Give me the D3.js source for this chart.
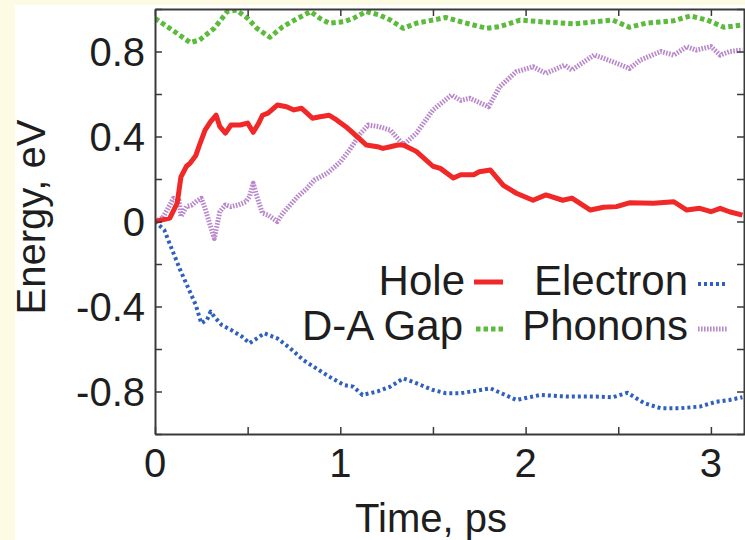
<!DOCTYPE html>
<html>
<head>
<meta charset="utf-8">
<script src="https://cdn.jsdelivr.net/npm/d3@7"></script>
<style>
  html, body { margin: 0; padding: 0; background: #fdfbe4; }
  svg { display: block; }
  text { font-family: "Liberation Sans", Arial, Helvetica, sans-serif; fill: #1e1e1e; }
</style>
</head>
<body>
<svg id="chart" width="745" height="540"></svg>
<script>
// ---- Data (time in ps, energy in eV) ----
const holeT = [0,0.08,0.12,0.14,0.17,0.19,0.22,0.24,0.27,0.30,0.33,0.35,0.38,0.41,0.46,0.50,0.53,0.56,0.58,0.61,0.66,0.71,0.75,0.79,0.82,0.85,0.89,0.94,0.98,1.03,1.09,1.14,1.20,1.23,1.27,1.31,1.34,1.41,1.50,1.54,1.61,1.65,1.72,1.75,1.81,1.88,1.95,2.04,2.11,2.20,2.25,2.35,2.42,2.49,2.56,2.69,2.80,2.87,2.94,3.00,3.05,3.10,3.17];
const holeE = [0,0.016,0.087,0.21,0.26,0.275,0.31,0.36,0.43,0.47,0.50,0.446,0.416,0.454,0.454,0.463,0.42,0.463,0.50,0.51,0.548,0.54,0.525,0.533,0.51,0.486,0.493,0.50,0.478,0.446,0.40,0.36,0.352,0.344,0.352,0.36,0.36,0.33,0.26,0.25,0.205,0.22,0.22,0.234,0.242,0.17,0.133,0.10,0.125,0.10,0.11,0.054,0.067,0.07,0.088,0.086,0.093,0.054,0.062,0.046,0.062,0.046,0.03];

const elecT = [0,0.05,0.10,0.14,0.18,0.22,0.25,0.28,0.30,0.32,0.36,0.41,0.47,0.51,0.55,0.59,0.66,0.73,0.80,0.87,0.94,1.02,1.07,1.12,1.20,1.27,1.34,1.41,1.50,1.57,1.65,1.81,1.95,2.08,2.22,2.38,2.47,2.55,2.64,2.73,2.83,2.94,3.03,3.10,3.17];
const elecE = [0,-0.04,-0.15,-0.236,-0.314,-0.393,-0.479,-0.464,-0.424,-0.448,-0.487,-0.51,-0.542,-0.573,-0.55,-0.526,-0.55,-0.597,-0.652,-0.691,-0.73,-0.77,-0.777,-0.816,-0.80,-0.777,-0.738,-0.761,-0.793,-0.808,-0.808,-0.785,-0.84,-0.816,-0.824,-0.824,-0.827,-0.806,-0.855,-0.879,-0.879,-0.871,-0.848,-0.84,-0.827];

const gapT = [0,0.08,0.19,0.24,0.32,0.39,0.44,0.50,0.55,0.62,0.69,0.77,0.84,0.89,0.94,1.02,1.07,1.14,1.21,1.27,1.34,1.41,1.50,1.57,1.65,1.79,1.86,1.97,2.08,2.26,2.37,2.47,2.56,2.65,2.80,2.89,2.98,3.07,3.17];
const gapE = [0.956,0.909,0.842,0.854,0.909,0.988,0.995,0.956,0.909,0.867,0.917,0.956,0.988,0.956,0.933,0.94,0.956,0.988,0.972,0.948,0.909,0.933,0.948,0.96,0.94,0.909,0.917,0.948,0.94,0.93,0.94,0.948,0.914,0.933,0.945,0.967,0.948,0.914,0.925];

const phonT = [0,0.04,0.10,0.13,0.14,0.17,0.20,0.23,0.25,0.27,0.30,0.32,0.35,0.38,0.41,0.45,0.49,0.51,0.53,0.55,0.58,0.61,0.66,0.69,0.73,0.77,0.82,0.86,0.93,1.00,1.05,1.11,1.15,1.21,1.27,1.34,1.41,1.50,1.60,1.65,1.70,1.80,1.86,1.95,2.04,2.11,2.21,2.25,2.37,2.47,2.56,2.62,2.73,2.80,2.87,2.92,3.00,3.05,3.10,3.17];
const phonE = [0,0.016,0.109,0.10,0.023,0.07,0.078,0.10,0.109,0.062,-0.024,-0.08,0.046,0.078,0.07,0.078,0.093,0.117,0.18,0.117,0.039,0.031,0.0,0.039,0.078,0.117,0.156,0.195,0.227,0.28,0.337,0.415,0.454,0.446,0.43,0.36,0.415,0.525,0.595,0.57,0.58,0.54,0.634,0.705,0.728,0.697,0.736,0.713,0.784,0.752,0.72,0.76,0.80,0.783,0.823,0.807,0.823,0.783,0.80,0.807];

const xTickLabels = [0, 1, 2, 3];
const yTickLabels = [-0.8, -0.4, 0, 0.4, 0.8];

const seriesNames = ["Hole", "Electron", "D-A Gap", "Phonons"];

// ---- Layout ----
const W = 745, H = 540;
const plot = { left: 155, right: 745, top: 9, bottom: 434 };

const svg = d3.select("#chart");

// white panel
svg.append("rect").attr("x", 15).attr("y", 5).attr("width", W - 15).attr("height", H - 5).attr("fill", "#ffffff");

const x = d3.scaleLinear().domain([0, 3.184]).range([plot.left, plot.right]);
const y = d3.scaleLinear().domain([-1, 1]).range([plot.bottom, plot.top]);

const styles = {
  "Hole":     { color: "#f02828", width: 5,   dash: null,      opacity: 1 },
  "Electron": { color: "#2f5fbf", width: 4,   dash: "3,3",     opacity: 1 },
  "D-A Gap":  { color: "#5cbb3c", width: 5,   dash: "4.5,3",   opacity: 1 },
  "Phonons":  { color: "#b07ac6", width: 5,   dash: "1.6,1.4", opacity: 0.9 }
};

const seriesData = {
  "Hole": d3.zip(holeT, holeE),
  "Electron": d3.zip(elecT, elecE),
  "D-A Gap": d3.zip(gapT, gapE),
  "Phonons": d3.zip(phonT, phonE)
};

svg.append("clipPath").attr("id", "clip").append("rect")
  .attr("x", plot.left).attr("y", plot.top)
  .attr("width", plot.right - plot.left).attr("height", plot.bottom - plot.top);

const line = d3.line().x(d => x(d[0])).y(d => y(d[1]));

const g = svg.append("g").attr("clip-path", "url(#clip)");
["Phonons", "D-A Gap", "Electron", "Hole"].forEach(name => {
  const s = styles[name];
  g.append("path")
    .datum(seriesData[name])
    .attr("d", line)
    .attr("fill", "none")
    .attr("stroke", s.color)
    .attr("stroke-width", s.width)
    .attr("stroke-dasharray", s.dash)
    .attr("stroke-opacity", s.opacity)
    .attr("stroke-linejoin", "round");
});

// ---- Axes (frame with inward ticks) ----
const axisColor = "#3a3a3a";
const tickLen = 7;

const yAxisL = d3.axisLeft(y).tickValues(d3.range(-1, 1.0001, 0.2)).tickSizeInner(-tickLen).tickSizeOuter(0).tickFormat("");
const yAxisR = d3.axisRight(y).tickValues(d3.range(-1, 1.0001, 0.2)).tickSizeInner(-tickLen).tickSizeOuter(0).tickFormat("");
const xAxisB = d3.axisBottom(x).tickValues(d3.range(0, 3.01, 0.5)).tickSizeInner(-tickLen).tickSizeOuter(0).tickFormat("");
const xAxisT = d3.axisTop(x).tickValues(d3.range(0, 3.01, 0.5)).tickSizeInner(-tickLen).tickSizeOuter(0).tickFormat("");

function styleAxis(sel) {
  sel.selectAll("path").attr("stroke", axisColor).attr("stroke-width", 2);
  sel.selectAll("line").attr("stroke", axisColor).attr("stroke-width", 1.5);
}
svg.append("g").attr("transform", `translate(${plot.left},0)`).call(yAxisL).call(styleAxis);
svg.append("g").attr("transform", `translate(${plot.right - 1},0)`).call(yAxisR).call(styleAxis);
svg.append("g").attr("transform", `translate(0,${plot.bottom})`).call(xAxisB).call(styleAxis);
svg.append("g").attr("transform", `translate(0,${plot.top})`).call(xAxisT).call(styleAxis);

// tick labels
svg.append("g").selectAll("text").data(yTickLabels).join("text")
  .attr("x", plot.left - 10)
  .attr("y", d => y(d))
  .attr("dy", "0.36em")
  .attr("text-anchor", "end")
  .attr("font-size", 40)
  .text(d => d === 0 ? "0" : d3.format(".1f")(d).replace("−", "-"));

svg.append("g").selectAll("text").data(xTickLabels).join("text")
  .attr("x", d => x(d))
  .attr("y", 477)
  .attr("text-anchor", "middle")
  .attr("font-size", 40)
  .text(d => d);

// axis titles
svg.append("text")
  .attr("x", (plot.left + plot.right) / 2 - 19)
  .attr("y", 532)
  .attr("text-anchor", "middle")
  .attr("font-size", 40)
  .text("Time, ps");

svg.append("text")
  .attr("transform", `translate(45,${217}) rotate(-90)`)
  .attr("text-anchor", "middle")
  .attr("font-size", 40)
  .text("Energy, eV");

// ---- Legend ----
const legendItems = [
  { name: "Hole",     textRight: 465, base: 295, lx: 474, ly: 282 },
  { name: "Electron", textRight: 688, base: 295, lx: 698, ly: 284 },
  { name: "D-A Gap",  textRight: 463, base: 340, lx: 476, ly: 329 },
  { name: "Phonons",  textRight: 688, base: 340, lx: 698, ly: 329 }
];
const leg = svg.append("g");
legendItems.forEach(it => {
  const s = styles[it.name];
  leg.append("text")
    .attr("x", it.textRight).attr("y", it.base)
    .attr("text-anchor", "end")
    .attr("font-size", 42)
    .text(it.name);
  leg.append("line")
    .attr("x1", it.lx).attr("x2", it.lx + 29)
    .attr("y1", it.ly).attr("y2", it.ly)
    .attr("stroke", s.color)
    .attr("stroke-width", s.width)
    .attr("stroke-dasharray", s.dash)
    .attr("stroke-opacity", s.opacity);
});
</script>
</body>
</html>
